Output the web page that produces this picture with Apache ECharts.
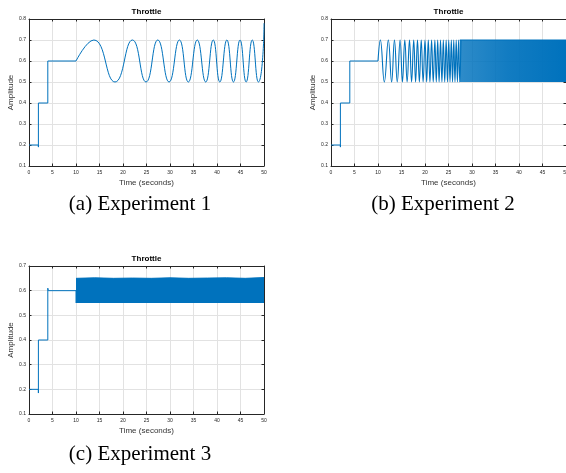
<!DOCTYPE html>
<html><head><meta charset="utf-8">
<script src="https://cdn.jsdelivr.net/npm/echarts@6/dist/echarts.min.js"></script>
<style>html,body{margin:0;padding:0;background:#fff}#c{width:566px;height:473px}</style>
</head><body><div id="c"></div>
<script>
// ---- data ----
const xTickValues = [0,5,10,15,20,25,30,35,40,45,50];
const titles = ['Throttle','Throttle','Throttle'];
const captions = ['(a) Experiment 1','(b) Experiment 2','(c) Experiment 3'];
const xName = 'Time (seconds)';
const yName = 'Amplitude';

// Experiment 1: step part
const aStepT = [0,2,2,2,4,4,10];
const aStepV = [0.2,0.2,0.19,0.4,0.4,0.6,0.6];
// Experiment 1: slow sweep (start, then peaks and troughs)
const aWaveT = [10,13.8,18.3,22.0,24.9,27.4,29.8,32.0,33.9,35.8,37.6,39.2,40.6,42.1,43.5,44.9,46.2,47.5,48.8,49.85,50];
const aWaveV = [0.6,0.7,0.5,0.7,0.5,0.7,0.5,0.7,0.5,0.7,0.5,0.7,0.5,0.7,0.5,0.7,0.5,0.7,0.5,0.66,0.78];

// Experiment 2: step part
const bStepT = [0,2,2,2,4,4,10];
const bStepV = [0.2,0.2,0.19,0.4,0.4,0.6,0.6];
// Experiment 2: fast sweep, resolvable extremes
const bWaveT = [10,10.5,11.35,12.2,12.9,13.5,14.1,14.7,15.2,15.7,16.2,16.7,17.15,17.6,18.0,18.4,18.8,19.2,19.6,20.0,20.35,20.7,21.05,21.4,21.75,22.1,22.4,22.7,23.0,23.3,23.6,23.9,24.2,24.5,24.78,25.05,25.32,25.6,25.86,26.12,26.38,26.64,26.9,27.15,27.4,27.65];
const bWaveV = [0.6,0.7,0.5,0.7,0.5,0.7,0.5,0.7,0.5,0.7,0.5,0.7,0.5,0.7,0.5,0.7,0.5,0.7,0.5,0.7,0.5,0.7,0.5,0.7,0.5,0.7,0.5,0.7,0.5,0.7,0.5,0.7,0.5,0.7,0.5,0.7,0.5,0.7,0.5,0.7,0.5,0.7,0.5,0.7,0.5,0.7];
// Experiment 2: dense band (envelope)
const bBandT = [27.4,50];
const bBandHigh = [0.7,0.7];
const bBandLow = 0.5;

// Experiment 3: step part
const cStepT = [0,2,2,2,4,4,4.1,10,10];
const cStepV = [0.2,0.2,0.185,0.4,0.4,0.61,0.6,0.6,0.55];
// Experiment 3: dense band (envelope)
const cBandT = [10,14,18,22,26,30,34,38,42,46,50];
const cBandHigh = [0.65,0.652,0.65,0.651,0.65,0.652,0.65,0.651,0.652,0.65,0.653];
const cBandLow = 0.55;

const yRanges = [[0.1,0.8],[0.1,0.8],[0.1,0.7]];

// ---- layout ----
const grids = [
  {left:29, top:19, width:235, height:147},
  {left:331, top:19, width:235, height:147},
  {left:29, top:266, width:235, height:148}
];
const capPos = [[140,204],[443,204],[140,454]];

const LINE = '#0072BD';
const AX = '#262626';
const GRIDC = '#e2e2e2';
const FONT = 'Liberation Sans';

const zip = (t,v) => t.map((x,i)=>[x,v[i]]);

const xAxis = [], yAxis = [], series = [], graphic = [];
grids.forEach((g,i)=>{
  const base = {
    type:'value', gridIndex:i, min:0, max:50, interval:5,
    axisLine:{show:true, onZero:false, lineStyle:{color:AX,width:1}},
    axisTick:{show:true, inside:true, length:2.5, lineStyle:{color:AX}},
  };
  xAxis.push(Object.assign({}, base, {
    position:'bottom',
    axisLabel:{show:true, fontSize:5, color:AX, margin:4, fontFamily:FONT, showMaxLabel:true},
    splitLine:{show:true, lineStyle:{color:GRIDC,width:1}},
    name:xName, nameLocation:'middle', nameGap:13,
    nameTextStyle:{fontSize:8, color:'#333', fontFamily:FONT}
  }));
  xAxis.push(Object.assign({}, base, {
    position:'top', axisLabel:{show:false}, splitLine:{show:false}
  }));
  const ybase = {
    type:'value', gridIndex:i, min:yRanges[i][0], max:yRanges[i][1], interval:0.1,
    axisLine:{show:true, onZero:false, lineStyle:{color:AX,width:1}},
    axisTick:{show:true, inside:true, length:2.5, lineStyle:{color:AX}},
  };
  yAxis.push(Object.assign({}, ybase, {
    position:'left',
    axisLabel:{show:true, fontSize:5, color:AX, margin:3, fontFamily:FONT, formatter:v=>v.toFixed(1)},
    splitLine:{show:true, lineStyle:{color:GRIDC,width:1}},
    name:yName, nameLocation:'middle', nameGap:13,
    nameTextStyle:{fontSize:8, color:'#333', fontFamily:FONT}
  }));
  yAxis.push(Object.assign({}, ybase, {
    position:'right', axisLabel:{show:false}, splitLine:{show:false}
  }));
  graphic.push({type:'text', x:g.left+g.width/2, y:g.top-7,
    style:{text:titles[i], textAlign:'center', textVerticalAlign:'middle',
      font:'bold 8px "Liberation Sans"', fill:'#000'}});
  graphic.push({type:'text', x:capPos[i][0], y:capPos[i][1],
    style:{text:captions[i], textAlign:'center', textVerticalAlign:'middle',
      font:'21px "Liberation Serif"', fill:'#000'}});
});

const lineBase = (i, data, extra) => Object.assign({
  type:'line', xAxisIndex:2*i, yAxisIndex:2*i, data, showSymbol:false,
  lineStyle:{color:LINE, width:1}, itemStyle:{color:LINE}, clip:true, animation:false, z:3
}, extra||{});

series.push(lineBase(0, zip(aStepT,aStepV)));
series.push(lineBase(0, zip(aWaveT,aWaveV), {smooth:0.5}));
series.push(lineBase(1, zip(bStepT,bStepV)));
series.push(lineBase(1, zip(bWaveT,bWaveV), {smooth:0.45, lineStyle:{color:LINE,width:1.1}}));
series.push(lineBase(1, zip(bBandT,bBandHigh), {
  lineStyle:{color:LINE,width:1},
  areaStyle:{origin:bBandLow, opacity:1,
    color:new echarts.graphic.LinearGradient(0,0,1,0,[
      {offset:0,color:'rgba(0,114,189,0.82)'},
      {offset:0.45,color:'rgba(0,114,189,0.93)'},
      {offset:1,color:'rgba(0,114,189,1)'}])}
}));
series.push(lineBase(2, zip(cStepT,cStepV)));
series.push(lineBase(2, zip(cBandT,cBandHigh), {
  lineStyle:{color:LINE,width:1},
  areaStyle:{origin:cBandLow, opacity:1, color:LINE}
}));

const chart = echarts.init(document.getElementById('c'), null, {renderer:'canvas'});
chart.setOption({
  animation:false,
  backgroundColor:'#fff',
  grid:grids.map(g=>Object.assign({containLabel:false, outerBoundsMode:'none'}, g)),
  xAxis, yAxis, series, graphic
});
</script>
</body></html>
